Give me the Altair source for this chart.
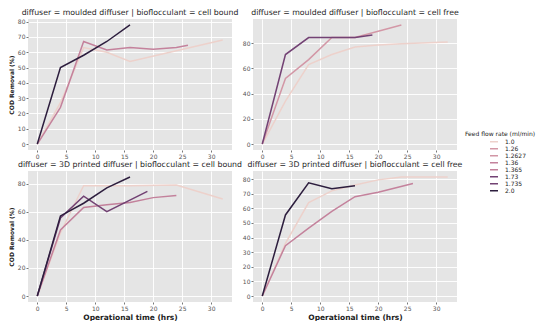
import math
import altair as alt
import pandas as pd

FLOW_LEVELS = ["1.0", "1.26", "1.2627", "1.36", "1.365", "1.73", "1.735", "2.0"]

PANEL_TITLES = [
    "diffuser = moulded diffuser | bioflocculant = cell bound",
    "diffuser = moulded diffuser | bioflocculant = cell free",
    "diffuser = 3D printed diffuser | bioflocculant = cell bound",
    "diffuser = 3D printed diffuser | bioflocculant = cell free",
]

X_TICKS = [0, 5, 10, 15, 20, 25, 30]

# moulded diffuser | cell bound
MB_CB_T_A = [0, 4, 8, 12, 16, 24, 32]
MB_CB_Y_A = [0, 27, 63, 60, 54, 61, 68]
MB_CB_T_B = [0, 4, 8, 12, 16, 20, 24, 26]
MB_CB_Y_B = [0, 24, 67, 61.5, 63, 62, 63, 64.5]
MB_CB_T_C = [0, 4, 8, 12, 16]
MB_CB_Y_C = [0, 50, 58, 67, 77.8]
MB_CB_FLOWS = ["1.0", "1.36", "2.0"]

# moulded diffuser | cell free
MB_CF_T_A = [0, 4, 8, 12, 16, 20, 24, 32]
MB_CF_Y_A = [0, 34, 63, 71, 77, 78.5, 79.5, 81]
MB_CF_T_B = [0, 4, 8, 12, 16, 24]
MB_CF_Y_B = [0, 52, 67, 84.5, 84.5, 94.5]
MB_CF_T_C = [0, 4, 8, 12, 16, 19]
MB_CF_Y_C = [0, 71, 84.5, 84.5, 84.5, 86.5]
MB_CF_FLOWS = ["1.0", "1.26", "1.73"]

# 3D printed diffuser | cell bound
PD_CB_T_A = [0, 4, 8, 16, 24, 32]
PD_CB_Y_A = [0, 45, 78.5, 78.5, 79, 69]
PD_CB_T_B = [0, 4, 8, 12, 16, 20, 24]
PD_CB_Y_B = [0, 47, 63, 65, 66.5, 70, 71.5]
PD_CB_T_C = [0, 4, 8, 12, 19]
PD_CB_Y_C = [0, 55.5, 71, 60, 74.5]
PD_CB_T_D = [0, 4, 8, 12, 16]
PD_CB_Y_D = [0, 57, 66, 77, 84.7]
PD_CB_FLOWS = ["1.0", "1.365", "1.735", "2.0"]

# 3D printed diffuser | cell free
PD_CF_T_A = [0, 4, 8, 12, 16, 20, 24, 32]
PD_CF_Y_A = [0, 36, 64, 72, 76, 79.5, 81.5, 81.5]
PD_CF_T_B = [0, 4, 8, 12, 16, 20, 26]
PD_CF_Y_B = [0, 34.5, 46.5, 58, 68, 71, 77]
PD_CF_T_C = [0, 4, 8, 12, 16]
PD_CF_Y_C = [0, 55.5, 77.5, 73.5, 75.5]
PD_CF_FLOWS = ["1.0", "1.36", "2.0"]


def cubehelix_hex(v):
    # seaborn default sequential palette ("ch:"), light=.85 -> dark=.15
    lam = 0.85 - 0.7 * v
    a = 0.8 * lam * (1 - lam) / 2
    phi = 2 * math.pi * (0.4 * lam)
    c, s = math.cos(phi), math.sin(phi)
    r = lam + a * (-0.14861 * c + 1.78277 * s)
    g = lam + a * (-0.29227 * c - 0.90649 * s)
    b = lam + a * (1.97294 * c)
    vals = [max(0, min(1, t)) for t in (r, g, b)]
    return "#" + "".join(f"{int(round(t * 255)):02x}" for t in vals)


COLORS = [cubehelix_hex((float(f) - 1.0) / 1.0) for f in FLOW_LEVELS]


def frame(flows, series):
    rows = []
    for flow, (ts, ys) in zip(flows, series):
        for t, y in zip(ts, ys):
            rows.append({"time": t, "cod": y, "flow": flow})
    return pd.DataFrame(rows)


DFS = [
    frame(MB_CB_FLOWS, [(MB_CB_T_A, MB_CB_Y_A), (MB_CB_T_B, MB_CB_Y_B), (MB_CB_T_C, MB_CB_Y_C)]),
    frame(MB_CF_FLOWS, [(MB_CF_T_A, MB_CF_Y_A), (MB_CF_T_B, MB_CF_Y_B), (MB_CF_T_C, MB_CF_Y_C)]),
    frame(PD_CB_FLOWS, [(PD_CB_T_A, PD_CB_Y_A), (PD_CB_T_B, PD_CB_Y_B), (PD_CB_T_C, PD_CB_Y_C), (PD_CB_T_D, PD_CB_Y_D)]),
    frame(PD_CF_FLOWS, [(PD_CF_T_A, PD_CF_Y_A), (PD_CF_T_B, PD_CF_Y_B), (PD_CF_T_C, PD_CF_Y_C)]),
]
Y_TICKS = [
    [0, 10, 20, 30, 40, 50, 60, 70, 80],
    [0, 20, 40, 60, 80],
    [0, 20, 40, 60, 80],
    [0, 10, 20, 30, 40, 50, 60, 70, 80],
]

FONT = "DejaVu Sans"
W, H = 204, 131


def panel(i):
    df = DFS[i]
    lo, hi = 0.0, float(df["cod"].max())
    pad = 0.05 * (hi - lo)
    left = i % 2 == 0
    bottom = i >= 2
    axis_common = dict(
        labelFontSize=6, labelColor="#555555", labelFont=FONT,
        tickColor="#555555", tickSize=2, tickWidth=0.8,
        domain=False, grid=True, gridColor="#ffffff", gridWidth=0.9,
        labelPadding=1, titleFont=FONT, titleColor="#222222",
        titleFontWeight="bold",
    )
    xaxis = alt.Axis(values=X_TICKS, title="Operational time (hrs)" if bottom else None,
                     titleFontSize=7.5, titlePadding=2, **axis_common)
    yaxis = alt.Axis(values=Y_TICKS[i], title="COD Removal (%)" if left else None,
                     titleFontSize=6, titlePadding=3, **axis_common)
    return alt.Chart(df).mark_line(strokeWidth=1.5).encode(
        x=alt.X("time:Q", scale=alt.Scale(domain=[-1.6, 33.6], nice=False, zero=False), axis=xaxis),
        y=alt.Y("cod:Q", scale=alt.Scale(domain=[lo - pad, hi + pad], nice=False, zero=False), axis=yaxis),
        color=alt.Color(
            "flow:N",
            scale=alt.Scale(domain=FLOW_LEVELS, range=COLORS),
            legend=alt.Legend(
                title="Feed flow rate (ml/min)", orient="none", legendX=437, legendY=112,
                symbolType="stroke", symbolStrokeWidth=1.5, symbolSize=64,
                symbolOffset=24, labelOffset=6, clipHeight=6.7,
                labelFontSize=6, titleFontSize=6, titleFontWeight="normal",
                labelFont=FONT, titleFont=FONT, labelColor="#222222", titleColor="#222222",
                rowPadding=0, titlePadding=1.5,
            ),
        ),
        order=alt.Order("time:Q"),
    ).properties(
        width=W, height=H,
        title=alt.Title(PANEL_TITLES[i], fontSize=7.8, font=FONT, fontWeight="normal",
                        color="#262626", offset=2, anchor="middle"),
    )


chart = alt.concat(
    panel(0), panel(1), panel(2), panel(3),
    columns=2, spacing={"row": 21, "column": 21}, bounds="flush",
).configure_view(fill="#e5e5e5", stroke=None).properties(
    padding={"left": 0, "top": 0, "right": 0, "bottom": 0}, background="#ffffff"
)

chart.save("out.html", embed_options={"renderer": "svg", "actions": False})
